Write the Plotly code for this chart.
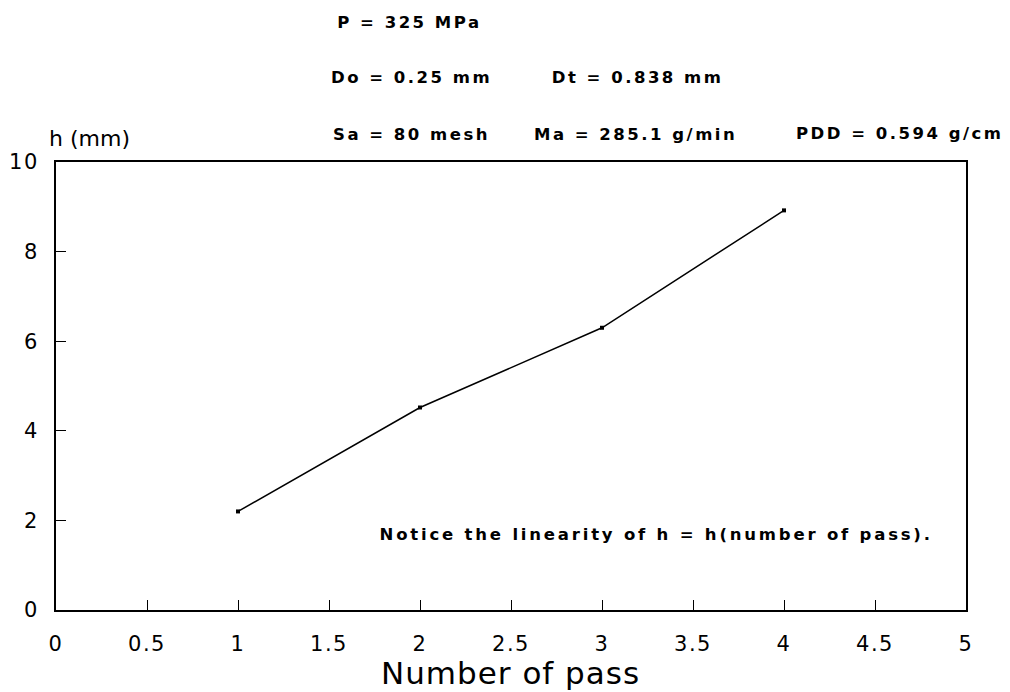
import plotly.graph_objects as go

passes = [1, 2, 3, 4]
h_mm = [2.2, 4.52, 6.3, 8.92]

x_ticks = [0, 0.5, 1, 1.5, 2, 2.5, 3, 3.5, 4, 4.5, 5]
x_tick_text = ["0", "0.5", "1", "1.5", "2", "2.5", "3", "3.5", "4", "4.5", "5"]
y_ticks = [0, 2, 4, 6, 8, 10]

params = [
    ("P = 325 MPa", 406, 22),
    ("Do = 0.25 mm", 408, 77),
    ("Dt = 0.838 mm", 635, 77),
    ("Sa = 80 mesh", 408, 135),
    ("Ma = 285.1 g/min", 633, 135),
    ("PDD = 0.594 g/cm", 900, 133),
]
note = ("Notice the linearity of h = h(number of pass).", 654, 534)
y_title = ("h (mm)", 84, 139)
x_title = ("Number of pass", 507, 673)

W, H = 1010, 692
L, R, T, B = 50, 44, 162, 82
NORMAL = "DejaVu Sans, Liberation Sans, Arial, sans-serif"


def px(x):
    return (x - L) / (W - L - R)


def py(y):
    return 1 - (y - T) / (H - T - B)


fig = go.Figure()
fig.add_trace(go.Scatter(
    x=passes, y=h_mm, mode="lines+markers",
    line=dict(color="black", width=1.5),
    marker=dict(symbol="square", size=4, color="black"),
    showlegend=False,
))

axis_common = dict(
    ticks="inside", ticklen=10, tickwidth=1.3, tickcolor="black",
    showline=True, linecolor="black", linewidth=2, mirror=True,
    showgrid=False, zeroline=False,
    tickfont=dict(size=21, family=NORMAL, color="black"),
)
fig.update_layout(
    width=W, height=H,
    margin=dict(l=L, r=R, t=T, b=B),
    paper_bgcolor="white", plot_bgcolor="white",
    font=dict(family=NORMAL, color="black"),
    xaxis=dict(range=[0, 5], tickvals=x_ticks, ticktext=x_tick_text,
               ticklabelstandoff=14, **axis_common),
    yaxis=dict(range=[0, 10], tickvals=y_ticks, ticklabelstandoff=11,
               **axis_common),
)

spacings = []
for txt, x, y in params:
    fig.add_annotation(
        text="<b>%s</b>" % txt, xref="paper", yref="paper", x=px(x), y=py(y),
        showarrow=False, font=dict(size=16.5, family=NORMAL),
        xanchor="center", yanchor="middle",
    )
    spacings.append(2.5)

fig.add_annotation(
    text="<b>%s</b>" % note[0], xref="paper", yref="paper",
    x=px(note[1]), y=py(note[2]), showarrow=False,
    font=dict(size=16.5, family=NORMAL), xanchor="center", yanchor="middle",
)
spacings.append(2.8)
fig.add_annotation(
    text=y_title[0], xref="paper", yref="paper", x=px(y_title[1]), y=py(y_title[2]),
    showarrow=False, font=dict(size=22, family=NORMAL), xanchor="center", yanchor="middle",
)
spacings.append(0)
fig.add_annotation(
    text=x_title[0], xref="paper", yref="paper", x=px(x_title[1]), y=py(x_title[2]),
    showarrow=False, font=dict(size=31, family=NORMAL), xanchor="center", yanchor="middle",
)
spacings.append(1)

post = """
var gd = document.getElementById('{plot_id}');
var sp = %s;
function ls() {
  gd.querySelectorAll('.annotation-text').forEach(function(t, i) {
    t.style.letterSpacing = (sp[i] || 0) + 'px';
  });
  gd.querySelectorAll('.xtick text, .ytick text').forEach(function(t) {
    t.style.letterSpacing = '1.5px';
  });
}
ls();
gd.on('plotly_afterplot', ls);
""" % str(spacings)

fig.write_html("out.html", post_script=post)
